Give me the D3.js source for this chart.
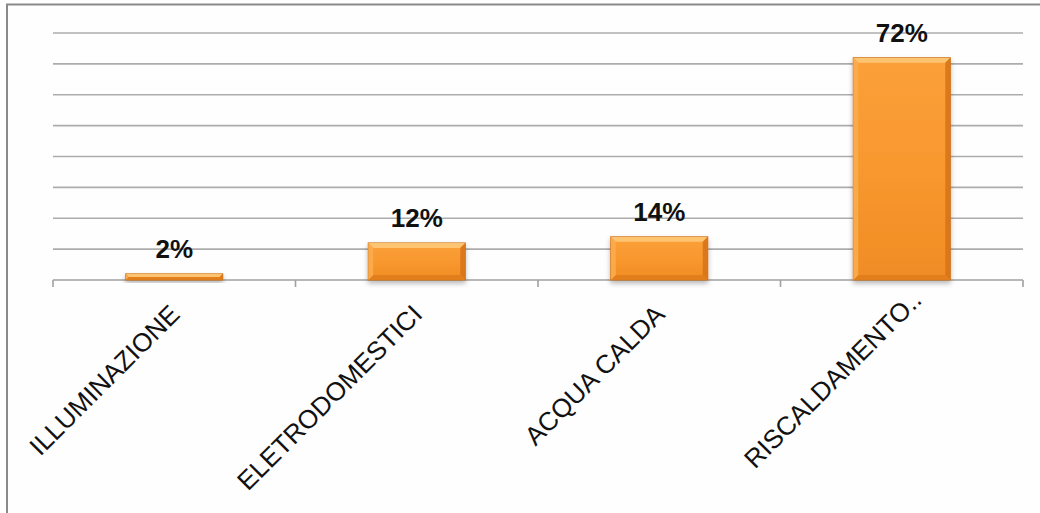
<!DOCTYPE html>
<html><head><meta charset="utf-8">
<script src="https://cdn.jsdelivr.net/npm/d3@7/dist/d3.min.js"></script>
<style>
html,body{margin:0;padding:0;background:#fff;}
svg{display:block;font-family:"Liberation Sans",Arial,sans-serif;}
</style></head>
<body>
<svg id="chart" width="1040" height="513"></svg>
<script>
const categories = ["ILLUMINAZIONE", "ELETRODOMESTICI", "ACQUA CALDA", "RISCALDAMENTO.."];
const values = [2, 12, 14, 72];
const valueLabels = ["2%", "12%", "14%", "72%"];
const yTicks = [0, 10, 20, 30, 40, 50, 60, 70, 80];

const svg = d3.select("#chart");
const W = 1040, H = 513;
const m = {left: 53, right: 17, top: 33, bottom: 233};

// frame
svg.append("rect").attr("x", 7).attr("y", 4.5).attr("width", W + 10).attr("height", H + 10)
  .attr("fill", "#fefefe").attr("stroke", "#8a8a8a").attr("stroke-width", 2);

const x = d3.scaleBand().domain(categories).range([m.left, W - m.right])
  .paddingInner(0.6).paddingOuter(0.3);
const y = d3.scaleLinear().domain([0, 80]).range([H - m.bottom, m.top]);

const defs = svg.append("defs");
const g1 = defs.append("linearGradient").attr("id", "barFill").attr("x1", 0).attr("y1", 0).attr("x2", 0).attr("y2", 1);
g1.append("stop").attr("offset", "0%").attr("stop-color", "#fba03a");
g1.append("stop").attr("offset", "50%").attr("stop-color", "#f8982e");
g1.append("stop").attr("offset", "100%").attr("stop-color", "#f08c24");
const f = defs.append("filter").attr("id", "shadow").attr("x", "-20%").attr("y", "-20%").attr("width", "140%").attr("height", "160%");
f.append("feDropShadow").attr("dx", 0).attr("dy", 3).attr("stdDeviation", 2.5)
  .attr("flood-color", "#000").attr("flood-opacity", 0.28);

// gridlines
svg.append("g").selectAll("line").data(yTicks.filter(t => t > 0)).join("line")
  .attr("x1", m.left).attr("x2", W - m.right)
  .attr("y1", d => y(d)).attr("y2", d => y(d))
  .attr("stroke", "#acacac").attr("stroke-width", 1.6);

// x axis
const step = x.step();
const bounds = categories.map(c => x(c) - step * x.paddingInner() / 2).concat([W - m.right]);
const ax = svg.append("g");
ax.append("line").attr("x1", m.left).attr("x2", W - m.right).attr("y1", y(0)).attr("y2", y(0))
  .attr("stroke", "#a0a0a0").attr("stroke-width", 1.6);
ax.selectAll("line.tick").data(bounds).join("line").attr("class", "tick")
  .attr("x1", d => d).attr("x2", d => d).attr("y1", y(0)).attr("y2", y(0) + 7)
  .attr("stroke", "#a0a0a0").attr("stroke-width", 1.6);

// bars
const bars = svg.append("g").selectAll("g").data(values).join("g");
const bw = x.bandwidth();
bars.append("rect")
  .attr("x", (d, i) => x(categories[i])).attr("y", d => y(d))
  .attr("width", bw).attr("height", d => y(0) - y(d))
  .attr("fill", "url(#barFill)").attr("stroke", "#c96f18").attr("stroke-width", 1)
  .attr("filter", "url(#shadow)");
// bevels
const bev = d => Math.min(5, (y(0) - y(d)) / 2);
bars.append("polygon").attr("points", (d, i) => {
  const x0 = x(categories[i]), x1 = x0 + bw, t = y(d), b = bev(d);
  return [[x0, t], [x1, t], [x1 - b, t + b], [x0 + b, t + b]].join(" ");
}).attr("fill", "#fdc878").attr("opacity", 0.9);
bars.append("polygon").attr("points", (d, i) => {
  const x0 = x(categories[i]), x1 = x0 + bw, t = y(d), bt = y(0), b = bev(d);
  return [[x0, bt], [x1, bt], [x1 - b, bt - b], [x0 + b, bt - b]].join(" ");
}).attr("fill", "#e07d1c").attr("opacity", 0.9);
bars.append("polygon").attr("points", (d, i) => {
  const x0 = x(categories[i]), t = y(d), bt = y(0), b = bev(d);
  return [[x0, t], [x0 + b, t + b], [x0 + b, bt - b], [x0, bt]].join(" ");
}).attr("fill", "#fbac4e").attr("opacity", 0.9);
bars.append("polygon").attr("points", (d, i) => {
  const x1 = x(categories[i]) + bw, t = y(d), bt = y(0), b = bev(d);
  return [[x1, t], [x1 - b, t + b], [x1 - b, bt - b], [x1, bt]].join(" ");
}).attr("fill", "#d87418").attr("opacity", 0.9);

// value labels
svg.append("g").selectAll("text").data(values).join("text")
  .attr("x", (d, i) => x(categories[i]) + bw / 2).attr("y", d => y(d) - 16)
  .attr("text-anchor", "middle").attr("font-size", 26).attr("font-weight", "bold")
  .attr("fill", "#111").text((d, i) => valueLabels[i]);

// category labels (trailing ellipsis dots hang past the anchor point)
svg.append("g").selectAll("text").data(categories).join("text")
  .attr("text-anchor", "end").attr("font-size", 26).attr("fill", "#111")
  .attr("letter-spacing", 0)
  .attr("transform", d => `translate(${x(d) + bw / 2 + 7},${y(0) + 36}) rotate(-45)`)
  .text(d => d)
  .each(function(d) {
    const mt = d.match(/\.+$/);
    if (mt) {
      const n = mt[0].length;
      const w = this.getSubStringLength(d.length - n, n);
      this.setAttribute("dx", w + 6);
    }
  });
</script>
</body></html>
